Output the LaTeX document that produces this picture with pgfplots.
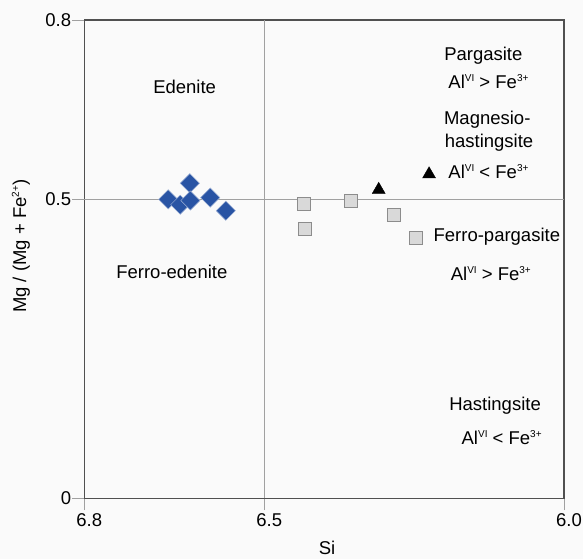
\documentclass[border=0pt]{standalone}
\usepackage{pgfplots}
\pgfplotsset{compat=1.18}
\usepackage{fontspec}
\setmainfont{Liberation Sans}
\definecolor{dblue}{RGB}{41,84,164}
\definecolor{sqfill}{RGB}{217,217,217}
\definecolor{sqdraw}{RGB}{140,140,140}
\definecolor{axgray}{RGB}{80,80,80}
\definecolor{gridgray}{RGB}{160,160,160}
\definecolor{bg}{RGB}{250,250,250}
\newcommand{\lab}{\fontsize{18.5}{22}\selectfont}
\newcommand{\sups}[1]{\raisebox{0.75ex}{\fontsize{10}{10}\selectfont #1}}
\newcommand{\alfe}[1]{Al\sups{VI} #1 Fe\sups{3+}}
\begin{document}
\begin{tikzpicture}
\fill[bg] (-84.3pt,-60.7pt) rectangle (498.7pt,498.3pt);
\useasboundingbox (-84.3pt,-60.7pt) rectangle (498.7pt,498.3pt);
\begin{axis}[
  at={(0pt,0pt)}, anchor=south west,
  scale only axis, width=479.7pt, height=478.3pt,
  x dir=reverse, xmin=6.0, xmax=6.8, ymin=0, ymax=0.8,
  xtick={6.0,6.5,6.8}, xticklabels={6.0,6.5,6.8},
  ytick={0,0.5,0.8}, yticklabels={0,0.5,0.8},
  xtick pos=bottom, ytick pos=left,
  tick align=outside, major tick length=12pt,
  tick style={gridgray, line width=0.8pt},
  axis line style={axgray, line width=1.2pt},
  tick label style={font=\lab},
  xticklabel style={xshift=5pt},
  yticklabel style={inner xsep=1pt},
  label style={font=\lab},
  xlabel={Si}, ylabel={Mg / (Mg + Fe\sups{2+})},
  xlabel style={at={(axis description cs:0.506,-0.103)}, anchor=center},
  ylabel style={at={(axis description cs:-0.132,0.527)}, anchor=center},
  clip=false,
]
\addplot[gridgray, line width=0.9pt, forget plot] coordinates {(6.5,0) (6.5,0.8)};
\addplot[gridgray, line width=0.9pt, forget plot] coordinates {(6.0,0.5) (6.8,0.5)};

% blue diamonds
\addplot[only marks, mark=square*, mark size=6.8pt,
  mark options={rotate=45, fill=dblue, draw=white!55!dblue, line width=0.5pt}]
  coordinates {(6.660,0.500) (6.640,0.491) (6.624,0.527) (6.623,0.498) (6.590,0.503) (6.564,0.481)};

% grey squares
\addplot[only marks, mark=square*, mark size=6.5pt,
  mark options={fill=sqfill, draw=sqdraw, line width=1pt}]
  coordinates {(6.434,0.492) (6.356,0.498) (6.283,0.474) (6.432,0.450) (6.246,0.436)};

% black triangles
\addplot[only marks, mark=triangle*, mark size=7.5pt, mark options={fill=black, draw=black}]
  coordinates {(6.309,0.516) (6.225,0.542)};

\node[font=\lab, inner sep=0pt] at (axis cs:6.6326,0.688) {Edenite};
\node[font=\lab, inner sep=0pt] at (axis cs:6.654,0.379) {Ferro-edenite};
\node[font=\lab, inner sep=0pt] at (axis cs:6.1345,0.741) {Pargasite};
\node[font=\lab, inner sep=0pt] at (axis cs:6.126,0.697) {\alfe{>}};
\node[font=\lab, inner sep=0pt] at (axis cs:6.128,0.633) {Magnesio-};
\node[font=\lab, inner sep=0pt] at (axis cs:6.125,0.594) {hastingsite};
\node[font=\lab, inner sep=0pt] at (axis cs:6.126,0.546) {\alfe{<}};
\node[font=\lab, inner sep=0pt] at (axis cs:6.112,0.4375) {Ferro-pargasite};
\node[font=\lab, inner sep=0pt] at (axis cs:6.122,0.376) {\alfe{>}};
\node[font=\lab, inner sep=0pt] at (axis cs:6.115,0.155) {Hastingsite};
\node[font=\lab, inner sep=0pt] at (axis cs:6.104,0.102) {\alfe{<}};
\end{axis}
\end{tikzpicture}
\end{document}
